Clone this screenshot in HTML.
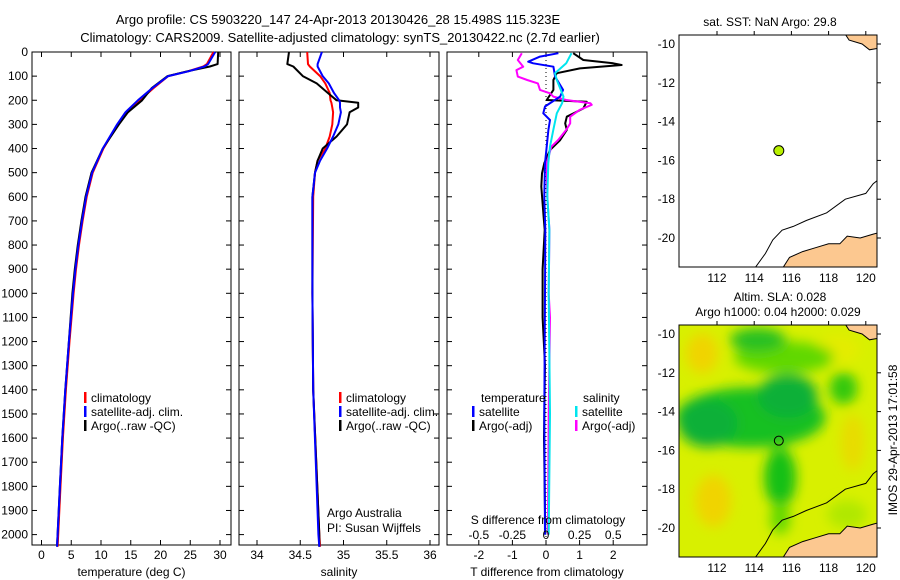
<!DOCTYPE html>
<html><head><meta charset="utf-8">
<style>
html,body{margin:0;padding:0;background:#fff;}
svg{display:block;font-family:"Liberation Sans",sans-serif;font-size:12px;}
</style></head>
<body>
<svg id="fig" width="900" height="580" viewBox="0 0 900 580" xmlns="http://www.w3.org/2000/svg">
<text x="338" y="24" text-anchor="middle" font-size="13">Argo profile: CS 5903220_147 24-Apr-2013 20130426_28 15.498S 115.323E</text>
<text x="340" y="42" text-anchor="middle" font-size="13">Climatology: CARS2009. Satellite-adjusted climatology: synTS_20130422.nc (2.7d earlier)</text>
<g id="g1"></g>
<g id="g2"></g>
<g id="g3"></g>
<g id="m1"></g>
<g id="m2"></g>
<text transform="translate(897,440) rotate(-90)" text-anchor="middle" font-size="12">IMOS 29-Apr-2013 17:01:58</text>
</svg>
<script>
// ---- data ----
const depthTicks=[0,100,200,300,400,500,600,700,800,900,1000,1100,1200,1300,1400,1500,1600,1700,1800,1900,2000];
const tempTicks=[0,5,10,15,20,25,30];
const salTicks=[34,34.5,35,35.5,36];
const salTickLabels=["34","34.5","35","35.5","36"];
const tdiffTicks=[-2,-1,0,1,2];
const sdiffTicks=[-0.5,-0.25,0,0.25,0.5];
const sdiffTickLabels=["-0.5","-0.25","0","0.25","0.5"];

const tDepth=[0,50,60,80,100,150,200,250,300,400,500,600,700,800,900,1000,1200,1400,1600,1800,2000,2050];
const tArgo=[29.7,29.6,28.3,24.5,21.2,18.5,16.9,14.5,13,10.3,8.4,7.4,6.7,6.1,5.6,5.2,4.6,4.0,3.5,3.1,2.7,2.6];
const tClim=[28.9,27.8,27.2,24.6,21.3,18.8,16.5,14.5,12.8,10.4,8.6,7.6,6.9,6.3,5.8,5.4,4.7,4.1,3.6,3.2,2.8,2.7];
const tSat=[29.2,28.0,27.4,24.7,21.3,18.6,16.2,14.1,12.7,10.3,8.5,7.5,6.8,6.2,5.7,5.3,4.6,4.0,3.5,3.1,2.7,2.6];

const sDepth=[0,50,60,100,130,170,200,210,230,250,300,350,400,450,500,600,1000,1400,2000,2050];
const sArgo=[34.37,34.35,34.42,34.53,34.69,34.82,34.92,35.17,35.17,35.07,35.04,34.92,34.76,34.70,34.67,34.64,34.64,34.65,34.72,34.72];
const sClim=[34.58,34.59,34.61,34.73,34.79,34.84,34.85,34.86,34.87,34.88,34.87,34.84,34.79,34.70,34.67,34.65,34.64,34.65,34.72,34.73];
const sSat=[34.75,34.70,34.70,34.76,34.83,34.89,34.95,34.96,34.96,34.97,34.94,34.88,34.81,34.73,34.67,34.64,34.64,34.65,34.71,34.72];

const dtArgoDepth=[5,33,47,54,68,88,116,157,199,206,234,268,296,323,365,406,461,503,558,627,682,737,900,1100,1300,1600,2000];
const dtArgo=[0.81,1.11,2.0,2.25,1.01,0.32,0.22,0.22,0.02,1.21,1.11,0.62,0.57,0.62,0.42,0.12,-0.05,-0.12,-0.14,-0.1,-0.07,-0.04,-0.1,-0.1,-0.03,-0.06,-0.02];
const dtSatDepth=[5,19,40,47,61,102,157,185,226,254,282,323,392,461,599,737,1000,1500,2000];
const dtSat=[0.37,-0.18,-0.53,-0.38,0.22,0.27,0.51,0.42,-0.03,-0.08,0.12,0.07,0.02,-0.03,-0.05,-0.02,-0.03,-0.05,-0.03];
const dsSatDepth=[5,47,88,116,185,212,254,323,392,461,599,737,1000,1500,2000];
const dsSat=[0.19,0.15,0.067,0.08,0.13,0.12,0.08,0.054,0.03,0.017,0.01,0.025,0.02,0.03,0.02];
const dsArgoDepth=[5,33,61,75,102,116,130,157,171,185,199,212,219,240,268,296,323,365,392,461,599,737,1000,1100,1500,2000];
const dsArgo=[-0.18,-0.21,-0.17,-0.22,-0.21,-0.14,-0.06,-0.045,0.03,0.054,0.15,0.33,0.34,0.25,0.18,0.18,0.15,0.09,0.04,0.005,0.01,0.025,0.02,0.03,0.02,0.015];

const latTicks=[-10,-12,-14,-16,-18,-20];
const lonTicks=[112,114,116,118,120];
const argoLon=115.323, argoLat=-15.498;

// ---- helpers ----
const NS="http://www.w3.org/2000/svg";
function mk(parent,tag,attrs){const e=document.createElementNS(NS,tag);for(const k in attrs)e.setAttribute(k,attrs[k]);parent.appendChild(e);return e;}
const PT=52,PB=545;
const yD=d=>PT+d*(534.6-52)/2000;

function panel(g,L,R,xs,ticks,labels,title){
  const r=mk(g,'rect',{x:L,y:PT,width:R-L,height:PB-PT,fill:'#fff',stroke:'#000','stroke-width':1});
  
  
  ticks.forEach((t,i)=>{
    const x=xs(t);
    const a=mk(g,'line',{x1:x,x2:x,y1:PB,y2:PB-5,stroke:'#000'});
    
    
    const b=mk(g,'line',{x1:x,x2:x,y1:PT,y2:PT+5,stroke:'#000'});
    
    
    const tx=mk(g,'text',{x:x,y:PB+14,'text-anchor':'middle'});
    tx.textContent=labels?labels[i]:String(t);
    
    
  });
  depthTicks.forEach(d=>{
    const y=yD(d);
    const a=mk(g,'line',{x1:L,x2:L+5,y1:y,y2:y,stroke:'#000'});
    
    
    const b=mk(g,'line',{x1:R,x2:R-5,y1:y,y2:y,stroke:'#000'});
    
    
  });
  const t=mk(g,'text',{x:(L+R)/2,y:576,'text-anchor':'middle'});
  t.textContent=title;
  
  
}
function line(g,xs,vals,depths,color,w,name){
  const pts=vals.map((v,i)=>xs(v).toFixed(1)+','+yD(depths[i]).toFixed(1)).join(' ');
  const p=mk(g,'polyline',{points:pts,fill:'none',stroke:color,'stroke-width':w,'stroke-linejoin':'round'});
  
  
}
function legend(g,x,y,color,label,name){
  const b=mk(g,'rect',{x:x,y:y-10,width:2.5,height:11,fill:color});
  
  
  const t=mk(g,'text',{x:x+7,y:y});
  t.textContent=label;
  
  
}

const g1=document.getElementById('g1');
depthTicks.forEach(d=>{
  const t=mk(g1,'text',{x:28,y:yD(d)+4,'text-anchor':'end'});
  t.textContent=String(d);
  
  
});

const xT=t=>41.5+t*5.95;
panel(g1,32,231,xT,tempTicks,null,'temperature (deg C)');
line(g1,xT,tClim,tDepth,'#ff0000',2,'temp-climatology-line');
line(g1,xT,tArgo,tDepth,'#000000',2,'temp-argo-line');
line(g1,xT,tSat,tDepth,'#0000ff',2,'temp-satellite-line');
legend(g1,84,402,'#ff0000','climatology','legend-climatology');
legend(g1,84,416,'#0000ff','satellite-adj. clim.','legend-satellite');
legend(g1,84,430,'#000000','Argo(..raw -QC)','legend-argo');

const g2=document.getElementById('g2');
const xS=s=>257+(s-34)*86.5;
panel(g2,239,439,xS,salTicks,salTickLabels,'salinity');
line(g2,xS,sClim,sDepth,'#ff0000',2,'sal-climatology-line');
line(g2,xS,sArgo,sDepth,'#000000',2,'sal-argo-line');
line(g2,xS,sSat,sDepth,'#0000ff',2,'sal-satellite-line');
legend(g2,339,402,'#ff0000','climatology','legend-climatology');
legend(g2,339,416,'#0000ff','satellite-adj. clim.','legend-satellite');
legend(g2,339,430,'#000000','Argo(..raw -QC)','legend-argo');
let t=mk(g2,'text',{x:327,y:517});t.textContent='Argo Australia';

t=mk(g2,'text',{x:327,y:532});t.textContent='PI: Susan Wijffels';


const g3=document.getElementById('g3');
const xDT=v=>546+v*33.6;
const xDS=v=>546+v*134.4;
panel(g3,447,647,xDT,tdiffTicks,null,'T difference from climatology');
const z=mk(g3,'line',{x1:546,x2:546,y1:PT,y2:PB,stroke:'#000','stroke-dasharray':'1,3'});

line(g3,xDT,dtArgo,dtArgoDepth,'#000000',2,'tdiff-argo-line');
line(g3,xDS,dsArgo,dsArgoDepth,'#ff00ff',2,'sdiff-argo-line');
line(g3,xDT,dtSat,dtSatDepth,'#0000ff',2,'tdiff-satellite-line');
line(g3,xDS,dsSat,dsSatDepth,'#00e5ee',2,'sdiff-satellite-line');
t=mk(g3,'text',{x:481,y:402});t.textContent='temperature';

t=mk(g3,'text',{x:583,y:402});t.textContent='salinity';

legend(g3,472,416,'#0000ff','satellite','legend-t-satellite');
legend(g3,472,430,'#000000','Argo(-adj)','legend-t-argo');
legend(g3,575,416,'#00e5ee','satellite','legend-s-satellite');
legend(g3,575,430,'#ff00ff','Argo(-adj)','legend-s-argo');
t=mk(g3,'text',{x:548,y:524,'text-anchor':'middle'});t.textContent='S difference from climatology';

sdiffTicks.forEach((v,i)=>{
  const tx=mk(g3,'text',{x:xDS(v),y:539,'text-anchor':'middle'});
  tx.textContent=sdiffTickLabels[i];
  
  
});

function map(g,top,shade){
  const L=679,R=877,H=232;
  const lonX=l=>717+(l-112)*18.6;
  const latY=la=>top+9+(-10-la)*19.4;
  const P=(lo,la)=>lonX(lo).toFixed(1)+','+latY(la).toFixed(1);
  const cid='clip'+top;
  const cp=mk(g,'clipPath',{id:cid});
  mk(cp,'rect',{x:L,y:top,width:R-L,height:H});
  const inner=mk(g,'g',{'clip-path':'url(#'+cid+')'});
  
  
  if(shade){
    const f=mk(g,'filter',{id:'blur'+top,x:'-50%',y:'-50%',width:'200%',height:'200%'});
    mk(f,'feGaussianBlur',{stdDeviation:6});
    const bg=mk(inner,'rect',{x:L,y:top,width:R-L,height:H,fill:'#d8f000'});
    
    const bl=mk(inner,'g',{filter:'url(#blur'+top+')'});
    const blobs=[[111.2,-11,16,20,'#f0d400'],[111.8,-18.6,18,26,'#f0d400'],[119.3,-15.6,12,28,'#e8dc00'],[118.5,-10.8,22,14,'#e4ec00'],
      [115.6,-11.2,50,16,'#60d800'],[114.2,-10.3,28,12,'#28c020'],[113.8,-14.3,75,30,'#18c020'],[111.5,-14.6,30,24,'#10b038'],
      [115.8,-13.2,30,22,'#10b038'],[118.8,-12.8,14,16,'#30c810'],[115.4,-17.4,16,30,'#18c018'],[115.4,-19.5,10,16,'#60d800'],
      [119.0,-19.3,20,14,'#b0e800']];
    blobs.forEach(b=>{
      const e=mk(bl,'ellipse',{cx:lonX(b[0]),cy:latY(b[1]),rx:b[2],ry:b[3],fill:b[4]});
      
    });
  }
  const land=mk(inner,'polygon',{points:[P(115.5,-21.6),P(115.9,-21.0),P(116.6,-20.7),P(117.3,-20.5),P(118.0,-20.3),P(118.6,-20.3),P(119.0,-19.9),P(119.7,-20.0),P(120.4,-19.8),P(120.8,-19.7),P(120.8,-21.6)].join(' '),fill:'#fcc890',stroke:'#000','stroke-width':1});
  
  const land2=mk(inner,'polygon',{points:[P(118.9,-9.5),P(119.1,-9.8),P(119.8,-10.0),P(120.2,-10.3),P(120.8,-10.2),P(120.8,-9.5)].join(' '),fill:'#fcc890',stroke:'#000','stroke-width':1});
  
  const iso=mk(inner,'polyline',{points:[P(114.0,-21.6),P(114.6,-20.8),P(115.0,-20.1),P(115.5,-19.6),P(116.1,-19.4),P(116.8,-19.1),P(117.9,-18.7),P(118.9,-18.0),P(120.0,-17.7),P(120.4,-17.2),P(120.8,-16.9)].join(' '),fill:'none',stroke:'#000','stroke-width':1});
  
  const fr=mk(g,'rect',{x:L,y:top,width:R-L,height:H,fill:'none',stroke:'#000','stroke-width':1});
  
  latTicks.forEach(la=>{
    const y=latY(la);
    const a=mk(g,'line',{x1:R,x2:R+4,y1:y,y2:y,stroke:'#000'});
    
    const tx=mk(g,'text',{x:L-4,y:y+4,'text-anchor':'end'});
    tx.textContent=String(la);
    
  });
  lonTicks.forEach(lo=>{
    const x=lonX(lo);
    const a=mk(g,'line',{x1:x,x2:x,y1:top,y2:top-4,stroke:'#000'});
    
    const tx=mk(g,'text',{x:x,y:top+H+15,'text-anchor':'middle'});
    tx.textContent=String(lo);
    
  });
  const c=mk(g,'circle',{cx:lonX(argoLon),cy:latY(argoLat),r:shade?4.5:5,fill:shade?'none':'#b8f000',stroke:'#000','stroke-width':1});
  
}
const m1=document.getElementById('m1');
map(m1,35,false);
t=mk(m1,'text',{x:770,y:26,'text-anchor':'middle'});t.textContent='sat. SST: NaN Argo: 29.8';

const m2=document.getElementById('m2');
map(m2,325,true);
t=mk(m2,'text',{x:780,y:301,'text-anchor':'middle'});t.textContent='Altim. SLA: 0.028';

t=mk(m2,'text',{x:778,y:316,'text-anchor':'middle'});t.textContent='Argo h1000: 0.04 h2000: 0.029';

</script>
</body></html>
